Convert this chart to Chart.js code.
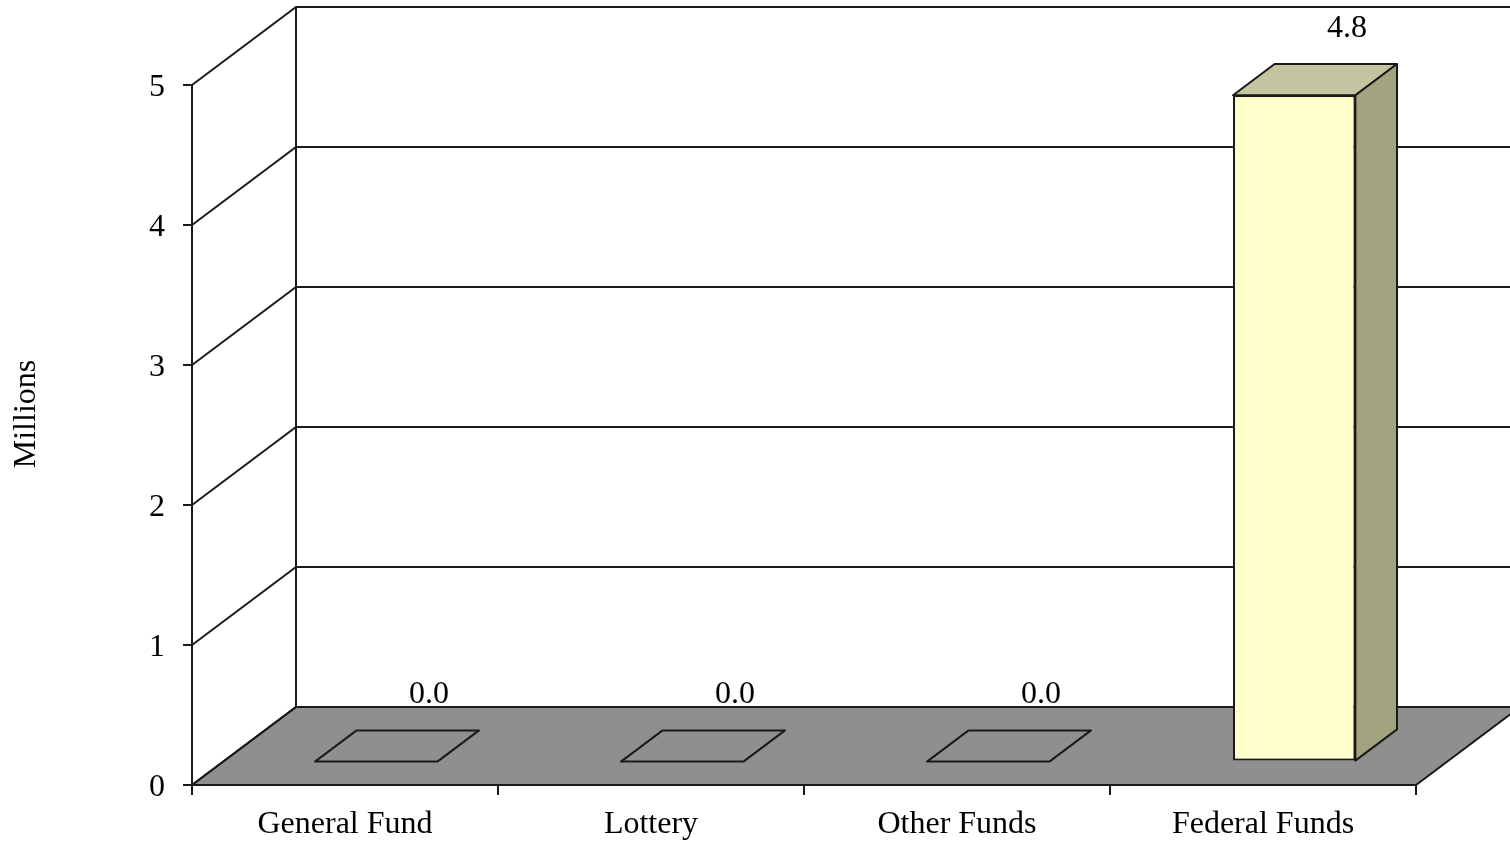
<!DOCTYPE html>
<html>
<head>
<meta charset="utf-8">
<script src="https://cdn.jsdelivr.net/npm/chart.js@4.4.0/dist/chart.umd.min.js"></script>
<style>
  html, body { margin: 0; padding: 0; background: #ffffff; }
  canvas { display: block; }
</style>
</head>
<body>
<canvas id="chart" width="1510" height="843"></canvas>
<script>
// Fund sources and amounts (millions)
const categories = ['General Fund', 'Lottery', 'Other Funds', 'Federal Funds'];
const amounts = [0, 0, 0, 4.76];
const yTicks = [0, 1, 2, 3, 4, 5];
const axisTitle = 'Millions';

// 3-D look: depth of the floor and of each block, in pixels
const DEPTH_X = 104;
const DEPTH_Y = 78;
const FRONT_GAP = 0.3;   // share of the depth in front of the blocks
const BLOCK_DEPTH = 0.4; // share of the depth taken by each block

const LINE_COLOR = '#1a1a1a';
const LINE_WIDTH = 2;
const FLOOR_COLOR = '#8f8f8f';
const FRONT_COLOR = '#ffffcc';
const TOP_COLOR = '#c4c4a0';
const SIDE_COLOR = '#a3a37f';
const FONT = { family: '"Liberation Serif", "Times New Roman", serif', size: 32 };

Chart.defaults.font.family = FONT.family;
Chart.defaults.color = '#000000';

// Floor, side wall and back wall with gridlines
const wallsPlugin = {
  id: 'walls3d',
  beforeDatasetsDraw(chart) {
    const { ctx, chartArea: a, scales: { y } } = chart;
    const y0 = y.getPixelForValue(0);
    const yTop = y.getPixelForValue(yTicks[yTicks.length - 1]);
    ctx.save();
    ctx.lineWidth = LINE_WIDTH;
    ctx.strokeStyle = LINE_COLOR;

    ctx.beginPath();
    ctx.moveTo(a.left, y0);
    ctx.lineTo(a.right, y0);
    ctx.lineTo(a.right + DEPTH_X, y0 - DEPTH_Y);
    ctx.lineTo(a.left + DEPTH_X, y0 - DEPTH_Y);
    ctx.closePath();
    ctx.fillStyle = FLOOR_COLOR;
    ctx.fill();
    ctx.stroke();

    yTicks.forEach(v => {
      const p = y.getPixelForValue(v);
      ctx.beginPath();
      ctx.moveTo(a.left, p);
      ctx.lineTo(a.left + DEPTH_X, p - DEPTH_Y);
      ctx.lineTo(a.right + DEPTH_X + 20, p - DEPTH_Y);
      ctx.stroke();
    });

    ctx.beginPath();
    ctx.moveTo(a.left + DEPTH_X, yTop - DEPTH_Y);
    ctx.lineTo(a.left + DEPTH_X, y0 - DEPTH_Y);
    ctx.stroke();

    ctx.beginPath();
    ctx.moveTo(a.left, y0);
    ctx.lineTo(a.left, yTop);
    ctx.stroke();
    ctx.restore();
  },
  afterDraw(chart) {
    // vertical axis title
    const { ctx, chartArea: a } = chart;
    ctx.save();
    ctx.font = `${FONT.size}px ${FONT.family}`;
    ctx.fillStyle = '#000000';
    ctx.textAlign = 'center';
    ctx.textBaseline = 'middle';
    ctx.translate(27, (a.top + a.bottom) / 2 - 21);
    ctx.rotate(-Math.PI / 2);
    ctx.fillText(axisTitle, 0, 0);
    ctx.restore();
  }
};

// Blocks: the front face is the library's bar, pushed back onto the floor;
// top and side faces are added from the same bar geometry.
const blocksPlugin = {
  id: 'blocks3d',
  beforeDatasetDraw(chart) {
    chart.ctx.save();
    chart.ctx.translate(DEPTH_X * FRONT_GAP, -DEPTH_Y * FRONT_GAP);
  },
  afterDatasetDraw(chart, args) {
    const ctx = chart.ctx;
    ctx.restore();
    const fx = DEPTH_X * FRONT_GAP, fy = DEPTH_Y * FRONT_GAP;
    const bx = DEPTH_X * BLOCK_DEPTH, by = DEPTH_Y * BLOCK_DEPTH;
    ctx.save();
    ctx.lineWidth = LINE_WIDTH;
    ctx.strokeStyle = LINE_COLOR;
    ctx.lineJoin = 'round';
    args.meta.data.forEach(el => {
      const left = el.x - el.width / 2 + fx;
      const right = el.x + el.width / 2 + fx;
      const top = el.y - fy;
      const bottom = el.base - fy;
      const flat = Math.abs(bottom - top) < 0.5;

      // top face
      ctx.beginPath();
      ctx.moveTo(left, top);
      ctx.lineTo(right, top);
      ctx.lineTo(right + bx, top - by);
      ctx.lineTo(left + bx, top - by);
      ctx.closePath();
      if (!flat) {
        ctx.fillStyle = TOP_COLOR;
        ctx.fill();
      }
      ctx.stroke();

      // side face
      if (!flat) {
        ctx.beginPath();
        ctx.moveTo(right, top);
        ctx.lineTo(right + bx, top - by);
        ctx.lineTo(right + bx, bottom - by);
        ctx.lineTo(right, bottom);
        ctx.closePath();
        ctx.fillStyle = SIDE_COLOR;
        ctx.fill();
        ctx.stroke();
      }
    });
    ctx.restore();
  },
  afterDatasetsDraw(chart) {
    const ctx = chart.ctx;
    const meta = chart.getDatasetMeta(0);
    ctx.save();
    ctx.font = `${FONT.size}px ${FONT.family}`;
    ctx.fillStyle = '#000000';
    ctx.textAlign = 'center';
    ctx.textBaseline = 'middle';
    meta.data.forEach((el, i) => {
      ctx.fillText(amounts[i].toFixed(1), el.x + 84, el.y - 90);
    });
    ctx.restore();
  }
};

new Chart(document.getElementById('chart'), {
  type: 'bar',
  data: {
    labels: categories,
    datasets: [{
      data: amounts,
      backgroundColor: FRONT_COLOR,
      borderColor: LINE_COLOR,
      borderWidth: LINE_WIDTH,
      borderSkipped: false,
      barPercentage: 0.4,
      categoryPercentage: 1.0,
      clip: false
    }]
  },
  options: {
    responsive: false,
    animation: false,
    events: [],
    layout: { padding: { top: 85, right: 94, left: 0, bottom: 0 } },
    plugins: { legend: { display: false }, tooltip: { enabled: false } },
    scales: {
      x: {
        offset: true,
        grid: {
          offset: true,
          drawOnChartArea: false,
          drawTicks: true,
          tickLength: 10,
          color: LINE_COLOR,
          lineWidth: LINE_WIDTH
        },
        border: { color: LINE_COLOR, width: LINE_WIDTH },
        ticks: { font: FONT, color: '#000000', padding: 10, maxRotation: 0 },
        afterFit(scale) { scale.height = 58; }
      },
      y: {
        min: 0,
        max: 5,
        afterBuildTicks(scale) { scale.ticks = yTicks.map(v => ({ value: v })); },
        grid: {
          drawOnChartArea: false,
          drawTicks: true,
          tickLength: 9,
          color: LINE_COLOR,
          lineWidth: LINE_WIDTH
        },
        border: { color: LINE_COLOR, width: LINE_WIDTH },
        ticks: { font: FONT, color: '#000000', padding: 18, labelOffset: 3 },
        title: { display: false },
        afterFit(scale) { scale.width = 192; }
      }
    }
  },
  plugins: [wallsPlugin, blocksPlugin]
});
</script>
</body>
</html>
